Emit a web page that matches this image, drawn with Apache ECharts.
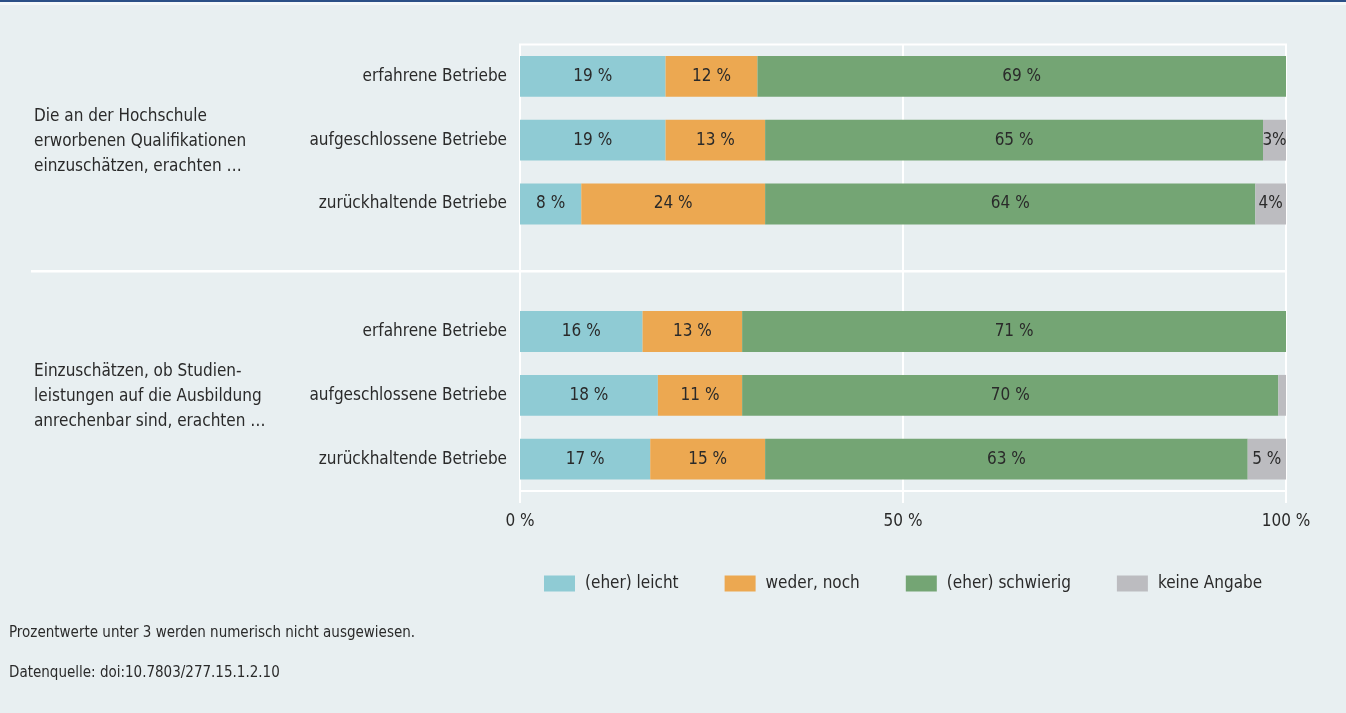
<!DOCTYPE html>
<html>
<head>
<meta charset="utf-8">
<script src="https://cdn.jsdelivr.net/npm/echarts@6/dist/echarts.min.js"></script>
<style>
html,body{margin:0;padding:0;background:#e8eff1;}
#main{width:1346px;height:713px;}
</style>
</head>
<body>
<div id="main"></div>
<script>
const categories = ['erfahrene Betriebe','aufgeschlossene Betriebe','zurückhaltende Betriebe','','erfahrene Betriebe','aufgeschlossene Betriebe','zurückhaltende Betriebe'];
const groupLabels = ['Die an der Hochschule\nerworbenen Qualifikationen\neinzuschätzen, erachten …','Einzuschätzen, ob Studien-\nleistungen auf die Ausbildung\nanrechenbar sind, erachten …'];
const seriesNames = ['(eher) leicht','weder, noch','(eher) schwierig','keine Angabe'];
const leicht      = [19, 19,  8, null, 16, 18, 17];
const wederNoch   = [12, 13, 24, null, 13, 11, 15];
const schwierig   = [69, 65, 64, null, 71, 70, 63];
const keineAngabe = [ 0,  3,  4, null,  0,  1,  5];
const xTicks = [0, 50, 100];
const footnotes = ['Prozentwerte unter 3 werden numerisch nicht ausgewiesen.','Datenquelle: doi:10.7803/277.15.1.2.10'];

const FONT = "'Liberation Sans Narrow','DejaVu Sans Condensed','Roboto Condensed',sans-serif";
const TXT = '#2a2a2a';
const colors = ['#8fcbd4','#eca851','#74a574','#bcbcc0'];
const values = [leicht, wederNoch, schwierig, keineAngabe];

const chart = echarts.init(document.getElementById('main'));

const series = values.map((arr, i) => ({
  name: seriesNames[i],
  type: 'bar',
  stack: 'total',
  barWidth: '64%',
  data: arr,
  itemStyle: {color: colors[i]},
  emphasis: {disabled: true},
  label: {
    show: true,
    position: 'inside',
    color: TXT,
    fontFamily: FONT,
    fontSize: 17,
    formatter: p => {
      const v = p.value;
      if (v == null || v < 3) return '';
      return (i === 3 && v < 5) ? v + '%' : v + ' %';
    }
  }
}));

chart.setOption({
  backgroundColor: '#e8eff1',
  animation: false,
  textStyle: {fontFamily: FONT},
  grid: {left: 520, right: 60, top: 44.5, bottom: 222, show: true, borderColor: '#ffffff', borderWidth: 2, backgroundColor: 'transparent'},
  legend: {
    left: 539, top: 570,
    itemWidth: 31, itemHeight: 16, itemGap: 46,
    icon: 'rect',
    textStyle: {fontFamily: FONT, fontSize: 17, color: TXT, padding: [0, 0, 0, 5]},
    data: seriesNames
  },
  xAxis: {
    type: 'value', min: xTicks[0], max: xTicks[xTicks.length - 1], interval: 50,
    axisLine: {show: false},
    axisTick: {show: true, length: 12, lineStyle: {color: '#ffffff', width: 2}},
    splitLine: {show: true, lineStyle: {color: '#ffffff', width: 2}},
    axisLabel: {formatter: '{value} %', fontFamily: FONT, fontSize: 17, color: TXT, margin: 22}
  },
  yAxis: {
    type: 'category', inverse: true, data: categories,
    axisLine: {show: false}, axisTick: {show: false}, splitLine: {show: false},
    axisLabel: {fontFamily: FONT, fontSize: 17, color: TXT, margin: 13}
  },
  series: series
});

const yMid1 = chart.convertToPixel({yAxisIndex: 0}, 1);
const yMid2 = chart.convertToPixel({yAxisIndex: 0}, 5);
const ySep = chart.convertToPixel({yAxisIndex: 0}, 3);
const xEnd = chart.convertToPixel({xAxisIndex: 0}, 100);

chart.setOption({
  graphic: [
    {type: 'rect', left: 0, top: 0, shape: {width: 1346, height: 2}, style: {fill: '#2b4f86'}, silent: true},
    {type: 'rect', left: 0, top: 2, shape: {width: 1346, height: 3}, style: {fill: '#f4f8f9'}, silent: true},
    {type: 'line', shape: {x1: 31, y1: ySep + 3.5, x2: xEnd, y2: ySep + 3.5}, style: {stroke: '#ffffff', lineWidth: 2.5}, silent: true},
    {type: 'text', x: 34, y: yMid1 + 1.5, style: {text: groupLabels[0], fontFamily: FONT, fontSize: 17, lineHeight: 25, fill: TXT, verticalAlign: 'middle', align: 'left'}, silent: true},
    {type: 'text', x: 34, y: yMid2 + 1.5, style: {text: groupLabels[1], fontFamily: FONT, fontSize: 17, lineHeight: 25, fill: TXT, verticalAlign: 'middle', align: 'left'}, silent: true},
    {type: 'text', x: 9, y: 633, style: {text: footnotes[0], fontFamily: FONT, fontSize: 15, fill: TXT, verticalAlign: 'middle'}, silent: true},
    {type: 'text', x: 9, y: 673, style: {text: footnotes[1], fontFamily: FONT, fontSize: 15, fill: TXT, verticalAlign: 'middle'}, silent: true}
  ]
});
</script>
</body>
</html>
